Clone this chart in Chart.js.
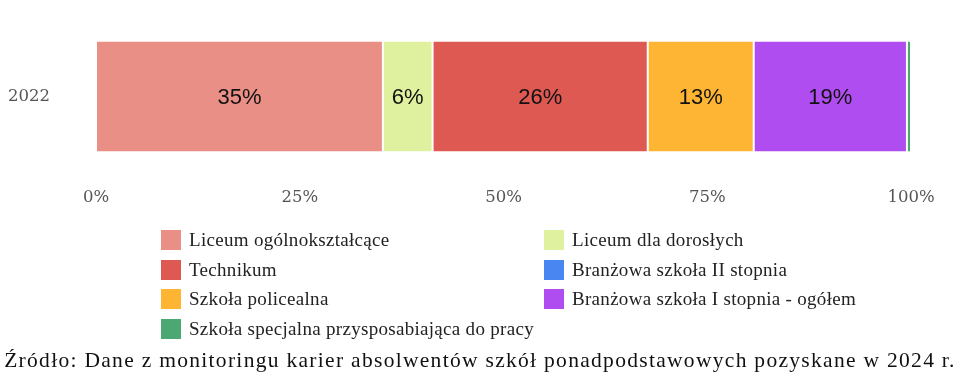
<!DOCTYPE html>
<html>
<head>
<meta charset="utf-8">
<script src="https://cdn.jsdelivr.net/npm/chart.js@4.4.1/dist/chart.umd.min.js"></script>
<style>
    html, body { margin: 0; padding: 0; background: #fff; }
    #wrap { position: relative; width: 960px; height: 384px; overflow: hidden; }
    #legend {
        position: absolute; left: 161px; top: 228px;
        display: grid; grid-template-columns: 383px 400px; row-gap: 5.5px;
        font-family: "Liberation Serif", serif; font-size: 19px; letter-spacing: 0.3px; color: #222;
    }
    .item { display: flex; align-items: center; height: 24px; white-space: nowrap; }
    .box { width: 20px; height: 20px; margin-right: 8px; }
    #source {
        position: absolute; left: 0; top: 348px; width: 960px; text-align: center;
        font-family: "Liberation Serif", serif; font-size: 21.5px; letter-spacing: 1.3px; color: #111; white-space: nowrap;
    }
</style>
</head>
<body>
<div id="wrap">
    <canvas id="chart" width="960" height="384"></canvas>
    <div id="legend"></div>
    <div id="source"></div>
</div>
<script>
const categories = ['2022'];
const seriesNames = [
    'Liceum ogólnokształcące',
    'Liceum dla dorosłych',
    'Technikum',
    'Branżowa szkoła II stopnia',
    'Szkoła policealna',
    'Branżowa szkoła I stopnia - ogółem',
    'Szkoła specjalna przysposabiająca do pracy'
];
const seriesValues = [35.2, 6.1, 26.4, 0, 13.0, 18.8, 0.5];
const seriesColors = ['#E98F86', '#DFF09F', '#DF5953', '#4A86F2', '#FDB533', '#B04DF0', '#4BA872'];
const tickLabels = ['0%', '25%', '50%', '75%', '100%'];
const sourceText = 'Źródło: Dane z monitoringu karier absolwentów szkół ponadpodstawowych pozyskane w 2024 r.';

// labels in the middle of each bar
const barLabels = {
    id: 'barLabels',
    afterDatasetsDraw(chart) {
        const ctx = chart.ctx;
        ctx.save();
        ctx.font = '22px "Liberation Sans", Arial, sans-serif';
        ctx.fillStyle = '#111';
        ctx.textAlign = 'center';
        ctx.textBaseline = 'middle';
        chart.data.datasets.forEach((ds, i) => {
            chart.getDatasetMeta(i).data.forEach((bar, j) => {
                const v = ds.data[j];
                if (v < 3) return;
                const p = bar.getProps(['x', 'base', 'y'], true);
                ctx.fillText(Math.round(v) + '%', (p.x + p.base) / 2, p.y + 1);
            });
        });
        ctx.restore();
    }
};

const datasets = seriesNames.map((name, i) => ({
    label: name,
    data: [seriesValues[i]],
    backgroundColor: seriesColors[i],
    borderColor: '#ffffff',
    borderWidth: { left: 1, right: 1, top: 0, bottom: 0 },
    borderSkipped: false,
    barPercentage: 0.635,
    categoryPercentage: 1
}));

const tickFont = { family: '"DejaVu Serif", serif', size: 16.5 };

var myChart = new Chart(document.getElementById('chart'), {
    type: 'bar',
    data: { labels: categories, datasets: datasets },
    options: {
        indexAxis: 'y',
        responsive: false,
        animation: false,
        layout: { padding: { top: 7, right: 49, bottom: 171, left: 8 } },
        plugins: {
            legend: { display: false },
            tooltip: { enabled: false }
        },
        scales: {
            x: {
                stacked: true,
                min: 0,
                max: 100,
                grid: { display: false, drawTicks: false },
                border: { display: false },
                ticks: {
                    stepSize: 25,
                    padding: 5,
                    color: '#555',
                    font: tickFont,
                    callback: (v, i) => tickLabels[i]
                }
            },
            y: {
                stacked: true,
                grid: { display: false, drawTicks: false },
                border: { display: false },
                afterFit: (axis) => { axis.width = 88; },
                ticks: {
                    padding: 0,
                    crossAlign: 'far',
                    color: '#555',
                    font: tickFont
                }
            }
        }
    },
    plugins: [barLabels]
});

// legend in two columns
var legend = document.getElementById('legend');
seriesNames.forEach((name, i) => {
    var item = document.createElement('div');
    item.className = 'item';
    item.innerHTML = '<span class="box" style="background:' + seriesColors[i] + '"></span><span></span>';
    item.lastChild.textContent = name;
    legend.appendChild(item);
});
document.getElementById('source').textContent = sourceText;
</script>
</body>
</html>
